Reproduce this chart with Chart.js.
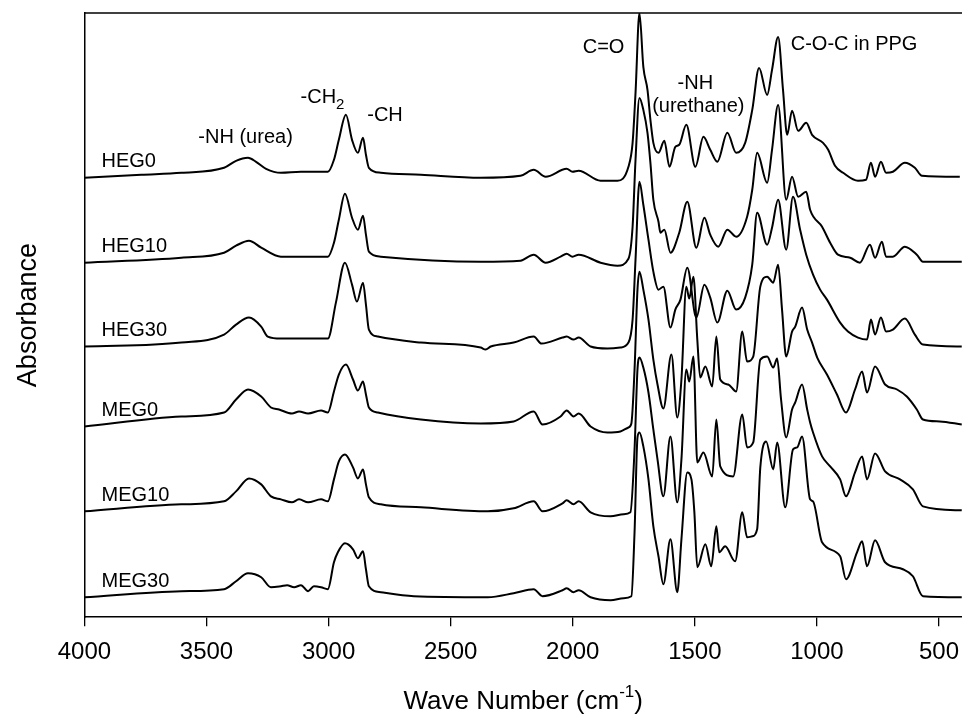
<!DOCTYPE html>
<html>
<head>
<meta charset="utf-8">
<title>FTIR spectra</title>
<script src="https://cdn.jsdelivr.net/npm/chart.js@4.4.0/dist/chart.umd.min.js"></script>
<style>
  html, body { margin: 0; padding: 0; background: #fff; overflow: hidden; }
</style>
</head>
<body>
<canvas id="ftirChart" width="962" height="720"></canvas>
<script>
// sample names, top to bottom
const SERIES = ["HEG0", "HEG10", "HEG30", "MEG0", "MEG10", "MEG30"];
// vertical stacking offset of each spectrum (a.u.)
const OFFSETS = [440, 355, 271, 191, 106, 20];
const X_TICKS = [500, 1000, 1500, 2000, 2500, 3000, 3500, 4000];

// wave number (cm-1) / absorbance (a.u., relative to each baseline)
const HEG0_WN = [4000, 3767, 3603, 3428, 3379, 3330, 3297, 3256, 3195, 3113, 3003, 2978, 2958, 2929, 2904, 2880, 2859, 2847, 2835, 2786, 2622, 2377, 2214, 2160, 2111, 2025, 2001, 1976, 1886, 1817, 1772, 1755, 1743, 1727, 1711, 1694, 1682, 1670, 1649, 1625, 1604, 1580, 1564, 1535, 1498, 1465, 1437, 1408, 1367, 1331, 1294, 1265, 1237, 1204, 1184, 1159, 1139, 1122, 1102, 1077, 1044, 1020, 975, 954, 926, 893, 832, 799, 779, 762, 738, 717, 689, 640, 599, 570, 415];
const HEG0_ABS = [0, 3, 5, 10, 17, 20, 16, 9, 5, 6, 6, 18, 38, 63, 38, 25, 40, 23, 10, 5, 3, 0, 2, 8, 1, 9, 6, 7, -3, -3, 11, 35, 85, 165, 111, 88, 58, 35, 25, 37, 11, 31, 33, 53, 11, 41, 28, 16, 45, 25, 35, 68, 110, 83, 108, 141, 88, 43, 67, 47, 55, 43, 35, 28, 12, 5, -3, -2, 15, 1, 16, 5, 6, 15, 10, 2, 1];

const HEG10_WN = [4000, 3603, 3428, 3379, 3326, 3276, 3195, 3003, 2978, 2958, 2933, 2904, 2880, 2859, 2847, 2835, 2786, 2377, 2214, 2160, 2111, 2050, 2025, 2001, 1976, 1886, 1817, 1772, 1755, 1743, 1727, 1711, 1694, 1682, 1670, 1649, 1641, 1625, 1600, 1564, 1531, 1494, 1461, 1437, 1404, 1367, 1331, 1286, 1265, 1245, 1204, 1184, 1159, 1126, 1102, 1077, 1044, 1028, 979, 946, 914, 864, 824, 783, 762, 734, 717, 689, 640, 591, 566, 407];
const HEG10_ABS = [0, 5, 10, 17, 22, 15, 6, 6, 20, 43, 69, 45, 33, 47, 28, 11, 6, 1, 2, 8, 0, 6, 9, 6, 8, 0, -3, 4, 36, 103, 165, 153, 130, 100, 63, 41, 30, 33, 10, 30, 61, 15, 45, 28, 16, 33, 26, 46, 73, 110, 80, 113, 158, 63, 86, 66, 71, 53, 36, 20, 8, 5, 0, 18, 5, 21, 6, 6, 16, 8, 1, 1];

const HEG30_WN = [4000, 3603, 3428, 3379, 3326, 3276, 3249, 3195, 3003, 2970, 2933, 2904, 2884, 2859, 2847, 2835, 2798, 2622, 2377, 2357, 2336, 2242, 2160, 2128, 2042, 2025, 1997, 1976, 1927, 1858, 1805, 1772, 1755, 1743, 1727, 1711, 1690, 1670, 1649, 1629, 1600, 1580, 1559, 1531, 1494, 1461, 1437, 1408, 1367, 1331, 1294, 1265, 1245, 1204, 1184, 1159, 1126, 1098, 1069, 1044, 1016, 987, 959, 905, 873, 832, 795, 779, 762, 738, 717, 689, 640, 599, 566, 407];
const HEG30_ABS = [0, 4, 12, 22, 29, 20, 10, 8, 8, 44, 84, 62, 45, 64, 42, 17, 10, 4, -1, -3, 0, 4, 10, 3, 9, 10, 7, 9, 0, -2, -1, 4, 27, 87, 165, 142, 107, 75, 57, 60, 19, 37, 47, 79, 29, 62, 49, 24, 56, 37, 49, 82, 134, 102, 119, 147, 97, 150, 117, 92, 72, 57, 47, 24, 15, 9, 7, 27, 12, 29, 15, 17, 28, 12, 2, 0];

const MEG0_WN = [4000, 3603, 3428, 3379, 3330, 3276, 3236, 3203, 3150, 3121, 3084, 3031, 3003, 2978, 2958, 2929, 2900, 2880, 2859, 2847, 2835, 2798, 2622, 2377, 2242, 2160, 2124, 2050, 2025, 1997, 1976, 1927, 1858, 1805, 1772, 1760, 1747, 1735, 1727, 1711, 1690, 1670, 1653, 1629, 1596, 1572, 1555, 1535, 1523, 1506, 1490, 1478, 1457, 1429, 1412, 1396, 1363, 1331, 1306, 1286, 1261, 1232, 1204, 1179, 1159, 1143, 1126, 1102, 1089, 1061, 1040, 1020, 999, 959, 918, 881, 844, 815, 795, 762, 721, 672, 632, 591, 566, 497, 407];
const MEG0_ABS = [0, 10, 14, 27, 37, 30, 19, 17, 13, 15, 13, 16, 14, 35, 52, 62, 47, 36, 45, 32, 19, 14, 7, 3, 5, 15, 2, 10, 16, 10, 13, 0, -6, -5, -1, 3, 57, 137, 155, 137, 107, 67, 42, 18, 72, 9, 47, 140, 128, 150, 87, 49, 60, 40, 90, 47, 42, 35, 95, 65, 70, 140, 150, 144, 162, 117, 70, 95, 100, 119, 97, 84, 69, 52, 32, 14, 37, 55, 34, 60, 42, 37, 30, 17, 7, 5, 2];

const MEG10_WN = [4000, 3603, 3428, 3379, 3326, 3276, 3236, 3195, 3150, 3121, 3084, 3031, 3003, 2978, 2958, 2933, 2900, 2880, 2859, 2847, 2835, 2786, 2622, 2348, 2242, 2160, 2124, 2042, 2025, 1997, 1976, 1927, 1845, 1792, 1764, 1747, 1735, 1727, 1711, 1690, 1670, 1653, 1629, 1600, 1572, 1555, 1535, 1523, 1506, 1490, 1465, 1429, 1412, 1396, 1343, 1306, 1286, 1261, 1232, 1204, 1179, 1163, 1147, 1126, 1102, 1089, 1061, 1040, 1028, 1016, 979, 946, 905, 881, 844, 815, 795, 762, 721, 660, 607, 566, 407];
const MEG10_ABS = [0, 7, 10, 20, 33, 27, 15, 12, 9, 12, 9, 12, 10, 32, 50, 57, 44, 33, 42, 27, 14, 7, 4, 0, 3, 10, 0, 8, 11, 7, 10, -1, -5, -3, -1, 62, 142, 154, 144, 119, 82, 52, 15, 75, 9, 52, 142, 130, 155, 49, 59, 35, 92, 45, 35, 97, 64, 69, 152, 155, 144, 153, 112, 74, 102, 109, 127, 102, 89, 79, 55, 45, 32, 15, 39, 55, 32, 58, 40, 32, 22, 5, 1];

const MEG30_WN = [4000, 3603, 3428, 3379, 3330, 3276, 3236, 3195, 3170, 3141, 3113, 3084, 3060, 3031, 3003, 2978, 2962, 2933, 2900, 2880, 2859, 2847, 2835, 2786, 2651, 2348, 2242, 2160, 2124, 2042, 2025, 1997, 1976, 1927, 1845, 1792, 1760, 1747, 1735, 1727, 1711, 1690, 1670, 1649, 1629, 1600, 1572, 1555, 1531, 1514, 1502, 1490, 1457, 1433, 1412, 1400, 1376, 1335, 1306, 1286, 1265, 1245, 1232, 1208, 1179, 1163, 1130, 1098, 1081, 1061, 1028, 1016, 979, 905, 881, 836, 815, 795, 762, 721, 648, 607, 566, 407];
const MEG30_ABS = [0, 6, 8, 16, 24, 20, 10, 11, 12, 10, 12, 6, 11, 10, 8, 35, 45, 54, 48, 39, 46, 28, 11, 5, 1, 0, 4, 8, 1, 7, 9, 5, 7, 0, -3, -1, 1, 65, 160, 165, 151, 118, 71, 41, 13, 58, 5, 58, 125, 118, 85, 30, 53, 31, 71, 45, 51, 36, 85, 60, 61, 68, 130, 156, 128, 155, 90, 148, 150, 161, 98, 96, 55, 41, 18, 45, 56, 31, 57, 35, 28, 21, 1, 0];

const SERIES_WN = [HEG0_WN, HEG10_WN, HEG30_WN, MEG0_WN, MEG10_WN, MEG30_WN];
const SERIES_ABS = [HEG0_ABS, HEG10_ABS, HEG30_ABS, MEG0_ABS, MEG10_ABS, MEG30_ABS];

const FONT = 'Arial, "Liberation Sans", sans-serif';

// peak annotations, anchored in data units (wave number, stacked absorbance)
const NOTES = [
  { text: "-NH (urea)", sub: "", wn: 3340, y: 480 },
  { text: "-CH", sub: "2", wn: 3025, y: 520 },
  { text: "-CH", sub: "", wn: 2769, y: 502 },
  { text: "C=O", sub: "", wn: 1874, y: 570 },
  { text: "-NH", sub: "", wn: 1498, y: 534 },
  { text: "(urethane)", sub: "", wn: 1486, y: 511 },
  { text: "C-O-C in PPG", sub: "", wn: 848, y: 573 }
];
const LABEL_WN = 3930;
const LABEL_RISE = 16;

const textPlugin = {
  id: "ftirText",
  afterDraw(chart) {
    const { ctx, chartArea, scales } = chart;
    const sx = scales.x, sy = scales.y;
    ctx.save();
    // top frame line
    ctx.strokeStyle = "#000";
    ctx.lineWidth = 1.5;
    ctx.beginPath();
    ctx.moveTo(chartArea.left, chartArea.top);
    ctx.lineTo(chartArea.right, chartArea.top);
    ctx.stroke();

    ctx.fillStyle = "#000";
    ctx.textBaseline = "middle";
    ctx.textAlign = "left";

    // sample names
    ctx.font = "20px " + FONT;
    SERIES.forEach((name, i) => {
      ctx.fillText(name, sx.getPixelForValue(LABEL_WN), sy.getPixelForValue(OFFSETS[i] + LABEL_RISE));
    });

    // peak notes
    NOTES.forEach(n => {
      ctx.font = "20px " + FONT;
      const w = ctx.measureText(n.text).width;
      ctx.font = "15px " + FONT;
      const ws = n.sub ? ctx.measureText(n.sub).width : 0;
      const x0 = sx.getPixelForValue(n.wn) - (w + ws) / 2;
      const y0 = sy.getPixelForValue(n.y);
      ctx.font = "20px " + FONT;
      ctx.fillText(n.text, x0, y0);
      if (n.sub) {
        ctx.font = "15px " + FONT;
        ctx.fillText(n.sub, x0 + w, y0 + 7);
      }
    });

    // x axis title with superscript
    const main = "Wave Number (cm", sup = "-1", tail = ")";
    ctx.font = "26px " + FONT;
    const wMain = ctx.measureText(main).width;
    const wTail = ctx.measureText(tail).width;
    ctx.font = "17px " + FONT;
    const wSup = ctx.measureText(sup).width;
    const cx = (chartArea.left + chartArea.right) / 2;
    const ty = 702;
    let tx = cx - (wMain + wSup + wTail) / 2;
    ctx.font = "26px " + FONT;
    ctx.fillText(main, tx, ty);
    tx += wMain;
    ctx.font = "17px " + FONT;
    ctx.fillText(sup, tx, ty - 10);
    tx += wSup;
    ctx.font = "26px " + FONT;
    ctx.fillText(tail, tx, ty);
    ctx.restore();
  }
};

const datasets = SERIES.map((name, i) => ({
  label: name,
  data: SERIES_WN[i].map((w, k) => ({ x: w, y: OFFSETS[i] + SERIES_ABS[i][k] })),
  borderColor: "#000",
  borderWidth: 2,
  pointRadius: 0,
  fill: false,
  cubicInterpolationMode: "monotone"
}));

const ctx = document.getElementById("ftirChart").getContext("2d");
new Chart(ctx, {
  type: "line",
  data: { datasets: datasets },
  options: {
    responsive: false,
    animation: false,
    devicePixelRatio: 1,
    layout: { padding: { left: 0, right: 0, top: 13, bottom: 41 } },
    plugins: { legend: { display: false }, tooltip: { enabled: false } },
    scales: {
      x: {
        type: "linear",
        reverse: true,
        min: 406,
        max: 4000,
        afterBuildTicks: s => { s.ticks = X_TICKS.map(v => ({ value: v })); },
        ticks: {
          color: "#000",
          font: { family: FONT, size: 24 },
          padding: 12,
          maxRotation: 0,
          autoSkip: false,
          callback: v => String(v)
        },
        grid: { display: true, drawOnChartArea: false, drawTicks: true, tickLength: 9, color: "#000", lineWidth: 1.3 },
        border: { display: true, color: "#000", width: 1.5 }
      },
      y: {
        min: 0,
        max: 605,
        ticks: { display: false },
        grid: { display: false, drawTicks: false },
        border: { display: true, color: "#000", width: 1.5 },
        title: {
          display: true,
          text: "Absorbance",
          color: "#000",
          font: { family: FONT, size: 27 },
          padding: { top: 12, bottom: 40 }
        }
      }
    }
  },
  plugins: [textPlugin]
});
</script>
</body>
</html>
